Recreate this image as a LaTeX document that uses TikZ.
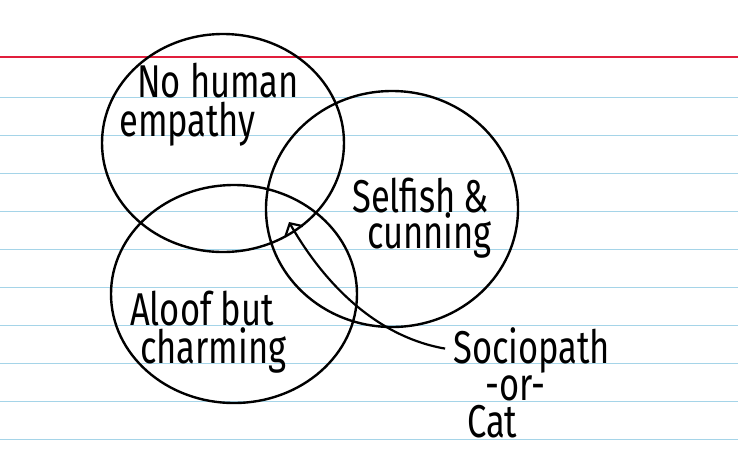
\documentclass[tikz,border=0pt]{standalone}
\usepackage{fontspec}
\usetikzlibrary{arrows.meta}
\newfontfamily\handfam[FakeStretch=0.75]{Fira Sans}
\newcommand{\handfont}{\fontsize{46}{46}\selectfont\handfam}
\definecolor{ruleblue}{RGB}{165,212,232}
\definecolor{rulered}{RGB}{225,30,60}
\tikzset{
    venn/.style={draw=black, line width=2.4pt},
    hand/.style={font=\handfont, inner sep=0pt, anchor=base west},
    rule/.style={ruleblue, line width=0.9pt},
    pointer/.style={line width=2.2pt, -{Straight Barb[length=9pt,width=20pt,line width=2.2pt]}}
}
\begin{document}
\begin{tikzpicture}[x=1pt, y=-1pt]
    % Card background
    \fill[white] (0,0) rectangle (738,451);
    \useasboundingbox (0,0) rectangle (738,451);

    % Ruled lines of the index card
    \draw[rulered, line width=1.2pt] (0,57) -- (738,57);
    \foreach \i in {0,...,9} {
        \draw[rule] (0,97+38*\i) -- (738,97+38*\i);
    }

    % The three circles
    \draw[venn] (223,143) ellipse [x radius=121, y radius=109];
    \draw[venn] (392,209) ellipse [x radius=126, y radius=118];
    \draw[venn] (234,294) ellipse [x radius=123, y radius=109];

    % Circle labels
    \node[hand] (human) at (137,97) {No human};
    \node[hand] (empathy) at (119,136) {empathy};
    \node[hand] (selfish) at (352,212) {Selfish\,\&};
    \node[hand] (cunning) at (367,248) {cunning};
    \node[hand] (aloof) at (130,325) {Aloof but};
    \node[hand] (charming) at (140,363) {charming};

    % Answer
    \node[hand] (socio) at (453,363) {Sociopath};
    \node[hand] (or) at (485,400) {-or-};
    \node[hand] (cat) at (467,437) {Cat};

    % Pointer into the middle
    \coordinate (middle) at (289,222);
    \draw[pointer, shorten <=8pt] (socio.west) .. controls +(-70,-12) and +(40,70) .. (middle);
\end{tikzpicture}
\end{document}
